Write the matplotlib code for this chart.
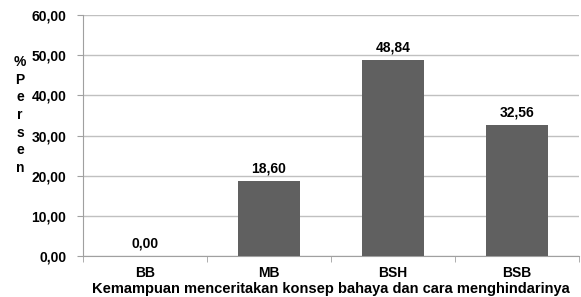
import matplotlib
matplotlib.use("Agg")
import matplotlib.pyplot as plt
import numpy as np

categories = ["BB", "MB", "BSH", "BSB"]
values = [0.00, 18.60, 48.84, 32.56]
yticks = [0, 10, 20, 30, 40, 50, 60]

plt.rcParams['font.family'] = ['Liberation Sans', 'DejaVu Sans']

fig = plt.figure(figsize=(5.81, 2.97), dpi=100)
ax = fig.add_axes([83/581, 1-256/297, (579-83)/581, (256-15)/297])

FS = 10
x = np.arange(len(categories))
ax.bar(x, values, width=0.5, color="#606060", zorder=3)
ax.set_xlim(-0.5, len(categories)-0.5)
ax.set_ylim(0, 60)
ax.set_yticks(yticks)
ax.set_yticklabels([f"{v:.2f}".replace(".", ",") for v in yticks], fontsize=FS, fontweight="bold")
ax.yaxis.grid(True, color="#c0c0c0", linewidth=1, zorder=0)
ax.set_xticks(x)
ax.set_xticklabels(categories, fontsize=FS, fontweight="bold")
ax.tick_params(axis="x", length=0, pad=7)
ax.set_xticks(np.arange(-0.5, len(categories)), minor=True)
ax.tick_params(axis="x", which="minor", length=4, color="#a0a0a0")
ax.tick_params(axis="y", length=4, color="#a0a0a0", pad=8)
for s in ["top", "right"]:
    ax.spines[s].set_visible(False)
for s in ["left", "bottom"]:
    ax.spines[s].set_color("#a0a0a0")

for xi, v in zip(x, values):
    ax.annotate(f"{v:.2f}".replace(".", ","), (xi, v), xytext=(0, 4), textcoords="offset points",
                ha="center", va="bottom", fontsize=FS, fontweight="bold")

ax.set_xlabel("Kemampuan menceritakan konsep bahaya dan cara menghindarinya",
              fontsize=10.5, fontweight="bold", labelpad=2)
fig.text(20/581, 1-115/297, "%\nP\ne\nr\ns\ne\nn", ha="center", va="center",
         fontsize=FS, fontweight="bold", linespacing=1.32)

fig.savefig("out.png", dpi=100)
